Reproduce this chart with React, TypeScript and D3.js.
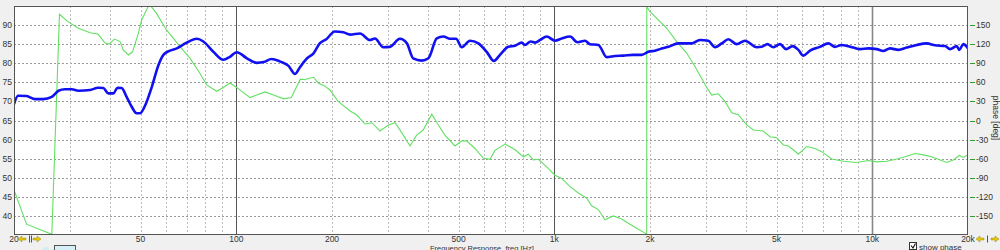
import React from "react";
import * as d3 from "d3";

// SPL curve [frequency Hz, dB]
const splData: [number, number][] = [
  [20, 69.3], [20.6, 71.5], [21.9, 71.4], [23.3, 70.6], [24.7, 70.6], [26.3, 71.2], [27.6, 72.8], [28.9, 73.2],
  [30.4, 73.2], [31.9, 72.8], [34.7, 73.0], [36.8, 73.6], [38.2, 73.5], [39.6, 72.1], [41.1, 72.1], [42.3, 73.6],
  [43.6, 73.5], [45.2, 71.2], [46.9, 68.6], [48.6, 66.9], [49.8, 66.9], [51.6, 68.8], [54.2, 73.7], [56.9, 79.5],
  [59.0, 82.2], [61.9, 83.3], [65.0, 83.9], [69.8, 85.4], [75.1, 86.4], [78.8, 85.7], [84.7, 83.0], [91.0, 80.9],
  [95.5, 81.7], [100.3, 82.9], [108, 81.3], [116, 80.1], [122, 80.3], [129, 81.1], [137, 80.5], [146, 79.3],
  [153, 77.2], [159, 79.1], [167, 81.3], [175, 82.6], [183, 85.2], [192, 86.3], [204, 88.3], [217, 88.1],
  [228, 87.5], [245, 87.8], [263, 86.1], [273, 86.5], [290, 84.2], [304, 84.3], [327, 86.4], [344, 85.2],
  [360, 81.3], [383, 80.7], [402, 81.3], [427, 86.5], [448, 87.0], [470, 86.4], [491, 86.4], [512, 84.2],
  [543, 85.9], [577, 85.2], [613, 83.0], [646, 80.6], [675, 82.2], [717, 84.3], [753, 84.6], [790, 85.4],
  [809, 84.8], [843, 85.7], [870, 85.4], [902, 86.1], [947, 87.0], [1005, 85.9], [1055, 86.5], [1121, 87.0],
  [1182, 85.5], [1249, 85.9], [1295, 85.0], [1376, 84.8], [1462, 81.6], [1552, 81.9], [1648, 82.0], [1772, 82.2],
  [1883, 82.2], [1976, 83.0], [2074, 83.3], [2150, 83.7], [2283, 84.3], [2455, 85.2], [2705, 85.2], [2872, 86.1],
  [3050, 85.9], [3203, 84.2], [3362, 85.2], [3527, 86.3], [3748, 85.0], [3980, 85.9], [4332, 84.2], [4492, 84.3],
  [4678, 85.0], [4886, 84.2], [5128, 85.0], [5356, 83.7], [5621, 84.5], [5855, 83.5], [6071, 82.0], [6371, 83.3],
  [6850, 84.3], [7275, 85.2], [7636, 84.3], [8016, 84.8], [8717, 84.1], [9152, 83.7], [9720, 83.9], [10330, 83.7],
  [10830, 83.2], [11370, 83.9], [12080, 83.5], [12830, 84.1], [13800, 84.8], [14830, 85.2], [15750, 84.7],
  [16930, 84.5], [17560, 83.7], [18430, 84.5], [18780, 83.5], [19330, 85.0], [20000, 83.9],
];

// Phase curve [frequency Hz, degrees]
const phaseData: [number, number][] = [
  [20, -109], [21.9, -163], [26.3, -179], [27.8, 167], [29.6, 155], [31.9, 145], [34.7, 138], [36.8, 135.5],
  [38.6, 122], [39.8, 120], [41.4, 128], [43.1, 124], [44.1, 111], [45.8, 103], [47.2, 108], [49.2, 137],
  [50.4, 158], [53.3, 183], [56.2, 168], [60.4, 142], [64.2, 126], [66.5, 116], [71.5, 98], [76.9, 74],
  [80.7, 56], [86.8, 46], [91, 52], [95.5, 59], [100.3, 52], [110.5, 36], [116, 40], [123, 45], [131, 40],
  [141, 34], [149, 36], [153, 48], [159, 65], [164.5, 64], [168.5, 66], [175, 68], [181, 59], [190, 54],
  [197, 48], [209, 30], [228, 15], [239, 9], [254, -5.5], [267, -3.5], [283, -16.5], [301, -7], [316, -3.5],
  [335, -23], [352, -40], [369, -23], [387, -15], [412, 10], [432, -7], [453, -23], [487, -40], [512, -32],
  [530, -32], [563, -44], [598, -59], [628, -61], [651, -47], [700, -37], [753, -46], [799, -57], [829, -53],
  [859, -62], [891, -61], [947, -73], [1005, -86], [1055, -91], [1121, -104], [1190, -114], [1264, -122],
  [1311, -134], [1376, -140], [1444, -156], [1533, -150], [1629, -155], [1730, -163], [1838, -171], [1929, -177],
  [1953, -179], [1954, 179], [2000, 171], [2258, 145], [2427, 124], [2609, 106], [2770, 85], [2908, 66],
  [3016, 52], [3126, 40], [3280, 42], [3443, 30], [3614, 12], [3792, 9], [4028, -7], [4226, -15], [4541, -16.5],
  [4768, -25.5], [5006, -27], [5252, -38.5], [5445, -40], [5645, -46], [5855, -53], [6222, -41], [6606, -44],
  [6934, -49], [7454, -60.5], [8110, -64], [8934, -66], [9720, -63], [10330, -65], [11100, -64], [11940, -60.5],
  [12680, -57], [13630, -52], [14470, -54], [15380, -57], [16130, -61], [17140, -66], [17980, -62], [18780, -55],
  [19330, -58], [20000, -54],
];

const xTickLabels: [number, string][] = [
  [20, "20"], [50, "50"], [100, "100"], [200, "200"], [500, "500"],
  [1000, "1k"], [2000, "2k"], [5000, "5k"], [10000, "10k"], [20000, "20k"],
];
const minorFreqs: number[] = [30, 40, 50, 60, 70, 80, 90, 200, 300, 400, 500, 600, 700, 800, 900,
  2000, 3000, 4000, 5000, 6000, 7000, 8000, 9000];
const majorFreqs: number[] = [100, 1000, 10000];
const dbTicks: number[] = [40, 45, 50, 55, 60, 65, 70, 75, 80, 85, 90];
const phaseTicks: number[] = [-150, -120, -90, -60, -30, 0, 30, 60, 90, 120, 150];

const W = 1000, H = 250;
const L = 14, R = 968, T = 6, B = 235;
const FONT = "'Liberation Sans', Arial, sans-serif";

export default function App() {
  const x = d3.scaleLog().domain([20, 20000]).range([L, R]);
  const y = d3.scaleLinear().domain([35, 95]).range([B, T]);
  const yp = d3.scaleLinear().domain([-180, 180]).range([B, T]);

  const splLine = d3.line<[number, number]>()
    .x((d) => x(d[0])).y((d) => y(d[1])).curve(d3.curveMonotoneX)(splData) || "";
  const phaseLine = d3.line<[number, number]>()
    .x((d) => x(d[0])).y((d) => yp(d[1]))(phaseData) || "";

  const arrowL = (cx: number, cy: number) => `M${cx - 4},${cy} L${cx},${cy - 3} L${cx},${cy - 1} L${cx + 4},${cy - 1} L${cx + 4},${cy + 1} L${cx},${cy + 1} L${cx},${cy + 3} Z`;
  const arrowR = (cx: number, cy: number) => `M${cx + 4},${cy} L${cx},${cy - 3} L${cx},${cy - 1} L${cx - 4},${cy - 1} L${cx - 4},${cy + 1} L${cx},${cy + 1} L${cx},${cy + 3} Z`;

  return (
    <svg width={W} height={H} style={{ position: "absolute", left: 0, top: 0, display: "block" }}>
      <defs>
        <clipPath id="plotclip">
          <rect x={L} y={T} width={R - L} height={B - T} />
        </clipPath>
      </defs>
      <rect x={0} y={0} width={W} height={H} fill="#f0f0f0" />
      <rect x={L} y={T} width={R - L} height={B - T} fill="#ffffff" />

      {/* horizontal grid */}
      {dbTicks.map((v) => (
        <line key={"h" + v} x1={L} x2={R} y1={Math.round(y(v)) + 0.5} y2={Math.round(y(v)) + 0.5}
          stroke="#9a9a9a" strokeWidth={1} strokeDasharray="2,2" />
      ))}
      {/* minor vertical grid */}
      {minorFreqs.map((f) => (
        <line key={"v" + f} x1={Math.round(x(f)) + 0.5} x2={Math.round(x(f)) + 0.5} y1={T} y2={B}
          stroke="#bdbdbd" strokeWidth={1} strokeDasharray="2,2" />
      ))}
      {majorFreqs.map((f) => (
        <line key={"M" + f} x1={Math.round(x(f)) + 0.5} x2={Math.round(x(f)) + 0.5} y1={T} y2={B}
          stroke={f === 10000 ? "#888" : "#555"} strokeWidth={f === 10000 ? 1.6 : 1} />
      ))}

      <g clipPath="url(#plotclip)">
        <path d={phaseLine} fill="none" stroke="#62e062" strokeWidth={1.1} />
        <path d={splLine} fill="none" stroke="#1010f0" strokeWidth={2.6} strokeLinejoin="round" />
      </g>

      <rect x={L + 0.5} y={T + 0.5} width={R - L - 1} height={B - T - 1} fill="none" stroke="#555" strokeWidth={1} />

      {/* left axis labels */}
      {dbTicks.map((v) => (
        <text key={"l" + v} x={12} y={y(v) + 3} textAnchor="end" fontFamily={FONT} fontSize={8.5} fill="#333">{v}</text>
      ))}
      {/* right axis ticks and labels */}
      {phaseTicks.map((v) => (
        <g key={"r" + v}>
          <line x1={970} x2={975} y1={Math.round(yp(v)) + 0.5} y2={Math.round(yp(v)) + 0.5} stroke="#2ca02c" strokeWidth={1} />
          <text x={976} y={yp(v) + 3} fontFamily={FONT} fontSize={8.5} fill="#333">{v}</text>
        </g>
      ))}
      <text transform={`translate(993,118) rotate(90)`} textAnchor="middle" fontFamily={FONT} fontSize={8.5} fill="#333">phase [deg]</text>

      {/* bottom axis labels */}
      {xTickLabels.map(([f, s]) => (
        <text key={"x" + f} x={x(f)} y={242} textAnchor="middle" fontFamily={FONT} fontSize={8.5} fill="#333">{s}</text>
      ))}

      {/* bottom widgets */}
      <path d={arrowL(22, 239)} fill="#e8c800" stroke="#8a7a00" strokeWidth={0.4} />
      <line x1={29.5} x2={29.5} y1={235.5} y2={242.5} stroke="#3a4ad0" strokeWidth={1} />
      <line x1={31.5} x2={31.5} y1={235.5} y2={242.5} stroke="#3a4ad0" strokeWidth={1} />
      <path d={arrowR(37, 239)} fill="#e8c800" stroke="#8a7a00" strokeWidth={0.4} />
      <circle cx={46} cy={250} r={3} fill="#cdeef6" />
      <rect x={54.5} y={245.5} width={21} height={8} fill="#d6eef8" stroke="#555" strokeWidth={1} />
      <text x={430} y={250.5} fontFamily={FONT} fontSize={7.5} fill="#333">Frequency Response, freq [Hz]</text>

      <path d={arrowL(980, 239)} fill="#e8c800" stroke="#8a7a00" strokeWidth={0.4} />
      <line x1={987.5} x2={987.5} y1={235.5} y2={242.5} stroke="#3a4ad0" strokeWidth={1} />
      <path d={arrowR(995, 239)} fill="#e8c800" stroke="#8a7a00" strokeWidth={0.4} />

      <rect x={909.5} y={242.5} width={7} height={7} fill="#fff" stroke="#333" strokeWidth={1} />
      <path d="M911,245.5 L913,248 L915.5,243.5" fill="none" stroke="#111" strokeWidth={1.1} />
      <text x={919} y={249.5} fontFamily={FONT} fontSize={8} fill="#333">show phase</text>
    </svg>
  );
}
